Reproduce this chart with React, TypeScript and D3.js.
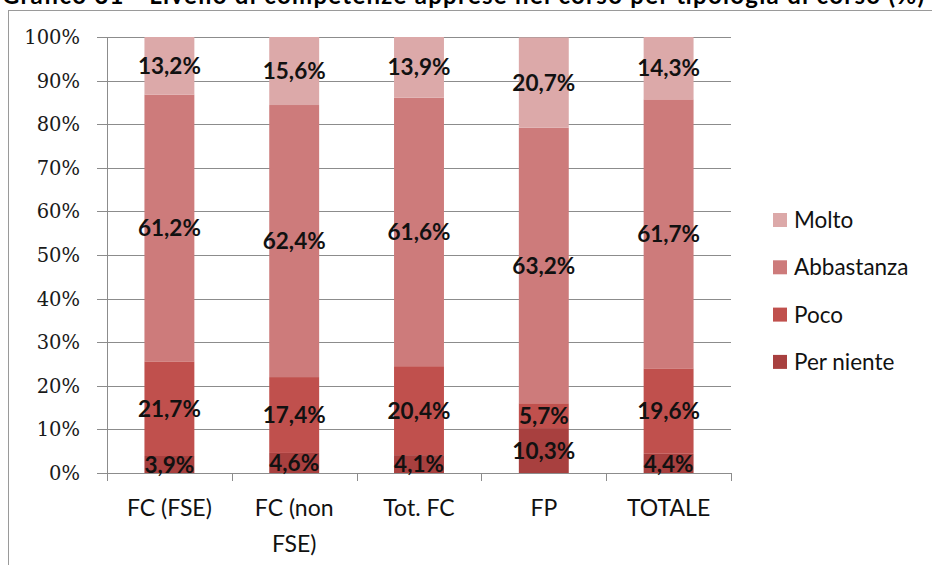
import React from 'react';
import * as d3 from 'd3';

const categories = ['FC (FSE)', 'FC (non FSE)', 'Tot. FC', 'FP', 'TOTALE'];
const categoryLines = [['FC (FSE)'], ['FC (non', 'FSE)'], ['Tot. FC'], ['FP'], ['TOTALE']];
const seriesNames = ['Per niente', 'Poco', 'Abbastanza', 'Molto'];
const perNiente = [3.9, 4.6, 4.1, 10.3, 4.4];
const poco = [21.7, 17.4, 20.4, 5.7, 19.6];
const abbastanza = [61.2, 62.4, 61.6, 63.2, 61.7];
const molto = [13.2, 15.6, 13.9, 20.7, 14.3];
const yTicks = [0, 10, 20, 30, 40, 50, 60, 70, 80, 90, 100];
const colors = ['#a8403f', '#c0504d', '#cd7b7b', '#dca9a9'];
const title = 'Grafico 31 - Livello di competenze apprese nel corso per tipologia di corso (%)';

const W = 932;
const H = 565;
const plot = { left: 107, right: 731, top: 37, bottom: 473 };

export default function App() {
  const seriesValues = [perNiente, poco, abbastanza, molto];
  const rows = categories.map((c, i) => {
    const r: Record<string, any> = { cat: c };
    seriesNames.forEach((s, k) => (r[s] = seriesValues[k][i]));
    return r;
  });
  const stacked = d3.stack<any>().keys(seriesNames)(rows);

  const x = d3
    .scaleBand<string>()
    .domain(categories)
    .range([plot.left, plot.right])
    .paddingInner(0.6)
    .paddingOuter(0.3);
  const y = d3.scaleLinear().domain([0, 100]).range([plot.bottom, plot.top]);
  const step = x.step();
  const fmt = (v: number) => v.toFixed(1).replace('.', ',') + '%';
  const sans = 'Lato, "Noto Sans", sans-serif';

  const legendOrder = [3, 2, 1, 0];

  return (
    <svg
      width={W}
      height={H}
      style={{ position: 'absolute', left: 0, top: 0, background: '#fff' }}
      fontFamily={sans}
    >
      <rect x={0} y={0} width={W} height={H} fill="#fff" />
      {/* title, mostly clipped at top as in the reference */}
      <text
        x={2}
        y={4}
        fontSize={24}
        fontWeight={700}
        fill="#000"
        textLength={922}
        lengthAdjust="spacing"
      >
        {title}
      </text>
      {/* chart frame */}
      <line x1={8.5} x2={8.5} y1={10} y2={H} stroke="#9a9a9a" strokeWidth={1} />
      <line x1={8} x2={W} y1={10.5} y2={10.5} stroke="#9a9a9a" strokeWidth={1} />

      {/* gridlines */}
      {yTicks.map((t) => (
        <line
          key={'g' + t}
          x1={plot.left - 10}
          x2={plot.right}
          y1={Math.round(y(t)) + 0.5}
          y2={Math.round(y(t)) + 0.5}
          stroke="#8c8c8c"
          strokeWidth={1}
        />
      ))}
      {/* y axis line */}
      <line
        x1={plot.left + 0.5}
        x2={plot.left + 0.5}
        y1={plot.top}
        y2={plot.bottom}
        stroke="#8c8c8c"
      />
      {/* x ticks */}
      {d3.range(categories.length + 1).map((i) => {
        const xx = Math.round(plot.left + i * step) + 0.5;
        return (
          <line key={'xt' + i} x1={xx} x2={xx} y1={plot.bottom} y2={plot.bottom + 8} stroke="#8c8c8c" />
        );
      })}
      {/* y tick labels */}
      {yTicks.map((t) => (
        <text
          key={'yl' + t}
          x={80}
          y={y(t)}
          dy="0.36em"
          textAnchor="end"
          style={{ fontFamily: "'DejaVu Serif', serif" }}
          fontSize={19.5}
          fill="#1a1a1a"
        >
          {t + '%'}
        </text>
      ))}

      {/* bars */}
      {stacked.map((layer, k) => (
        <g key={layer.key} fill={colors[k]}>
          {layer.map((d, i) => (
            <rect
              key={i}
              x={x(categories[i])}
              width={x.bandwidth()}
              y={y(d[1])}
              height={y(d[0]) - y(d[1])}
            />
          ))}
        </g>
      ))}
      {/* data labels */}
      {stacked.map((layer, k) => (
        <g key={'l' + layer.key}>
          {layer.map((d, i) => (
            <text
              key={i}
              x={(x(categories[i]) as number) + x.bandwidth() / 2}
              y={(y(d[0]) + y(d[1])) / 2}
              dy="0.36em"
              textAnchor="middle"
              fontSize={22.5}
              fontWeight={700}
              fill="#111"
            >
              {fmt(seriesValues[k][i])}
            </text>
          ))}
        </g>
      ))}

      {/* x labels */}
      {categories.map((c, i) => (
        <text
          key={'xl' + c}
          x={(x(c) as number) + x.bandwidth() / 2}
          y={516}
          textAnchor="middle"
          fontSize={23}
          fill="#111"
        >
          {categoryLines[i].map((ln, j) => (
            <tspan key={j} x={(x(c) as number) + x.bandwidth() / 2} dy={j === 0 ? 0 : 36}>
              {ln}
            </tspan>
          ))}
        </text>
      ))}

      {/* legend */}
      {legendOrder.map((k, j) => {
        const cy = 220 + j * 47.3;
        return (
          <g key={'lg' + k}>
            <rect x={773} y={cy - 7} width={14} height={14} fill={colors[k]} />
            <text x={794} y={cy} dy="0.36em" fontSize={22.5} fill="#111">
              {seriesNames[k]}
            </text>
          </g>
        );
      })}
    </svg>
  );
}
